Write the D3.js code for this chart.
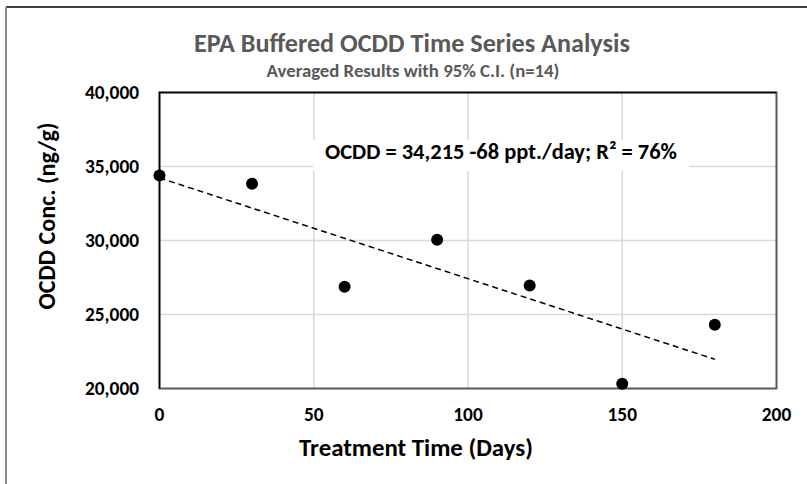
<!DOCTYPE html>
<html>
<head>
<meta charset="utf-8">
<script src="https://d3js.org/d3.v7.min.js"></script>
<style>
  html, body { margin: 0; padding: 0; background: #fff; }
  svg { display: block; font-family: Carlito, Calibri, Lato, sans-serif; font-weight: bold; }
</style>
</head>
<body>
<div id="chart"></div>
<script>
// values
var days = [0, 30, 60, 90, 120, 150, 180];
var ocdd = [34390, 33830, 26870, 30050, 26960, 20320, 24300];
var xTicks = [0, 50, 100, 150, 200];
var yTicks = [20000, 25000, 30000, 35000, 40000];

var titleText = "EPA Buffered OCDD Time Series Analysis",
    subtitleText = "Averaged Results with 95% C.I. (n=14)",
    fitText = "OCDD = 34,215 -68 ppt./day; R\u00B2 = 76%",
    xTitle = "Treatment Time (Days)",
    yTitle = "OCDD Conc. (ng/g)";

var width = 807,
    height = 484;

var svg = d3.select("#chart")
    .append("svg")
    .attr("width", width)
    .attr("height", height);

var x = d3.scaleLinear().domain([0, 200]).range([159.5, 776.5]);
var y = d3.scaleLinear().domain([20000, 40000]).range([388.5, 92.5]);

// shrink/grow the font so the text takes the same width as in the picture
function fit(sel, target) {
    var fs = parseFloat(sel.style("font-size"));
    var w = sel.node().getComputedTextLength();
    sel.style("font-size", (fs * target / w).toFixed(2) + "px");
    return sel;
}

// chart area edge (only left and top show in the crop)
svg.append("line")
    .attr("x1", 6).attr("y1", 7).attr("x2", width).attr("y2", 7)
    .style("stroke", "#000").style("stroke-width", 1.5);
svg.append("line")
    .attr("x1", 6).attr("y1", 7).attr("x2", 6).attr("y2", height)
    .style("stroke", "#8c8c8c").style("stroke-width", 2);

// gridlines
svg.append("g")
    .attr("class", "grid")
    .selectAll("line.v")
    .data(xTicks.slice(1, -1))
    .enter().append("line")
    .attr("x1", function(d) { return x(d); })
    .attr("x2", function(d) { return x(d); })
    .attr("y1", y(40000))
    .attr("y2", y(20000))
    .style("stroke", "#d9d9d9")
    .style("stroke-width", 1.5);

svg.select("g.grid")
    .selectAll("line.h")
    .data(yTicks.slice(1, -1))
    .enter().append("line")
    .attr("x1", x(0))
    .attr("x2", x(200))
    .attr("y1", function(d) { return y(d); })
    .attr("y2", function(d) { return y(d); })
    .style("stroke", "#d9d9d9")
    .style("stroke-width", 1.5);

// plot frame
svg.append("rect")
    .attr("x", x(0)).attr("y", y(40000))
    .attr("width", x(200) - x(0)).attr("height", y(20000) - y(40000))
    .style("fill", "none")
    .style("stroke", "#595959")
    .style("stroke-width", 2);
svg.append("path")
    .attr("d", "M" + x(0) + "," + y(20000) + "V" + y(40000) + "H" + x(200))
    .style("fill", "none")
    .style("stroke", "#000")
    .style("stroke-width", 1.5);

// least squares trend line
var mx = d3.mean(days), my = d3.mean(ocdd);
var slope = d3.sum(days, function(d, i) { return (d - mx) * (ocdd[i] - my); }) /
            d3.sum(days, function(d) { return (d - mx) * (d - mx); });
var intercept = my - slope * mx;
var trend = [d3.min(days), d3.max(days)].map(function(d) { return [d, intercept + slope * d]; });

svg.append("path")
    .datum(trend)
    .attr("d", d3.line()
        .x(function(d) { return x(d[0]); })
        .y(function(d) { return y(d[1]); }))
    .style("fill", "none")
    .style("stroke", "#000")
    .style("stroke-width", 1.5)
    .style("stroke-dasharray", "6,4");

// points
svg.append("g")
    .selectAll("circle")
    .data(days)
    .enter().append("circle")
    .attr("cx", function(d) { return x(d); })
    .attr("cy", function(d, i) { return y(ocdd[i]); })
    .attr("r", 6)
    .style("fill", "#000");

// tick labels
var fmt = d3.format(",");
var yl = svg.append("g")
    .selectAll("text")
    .data(yTicks)
    .enter().append("text")
    .attr("x", 139)
    .attr("y", function(d) { return y(d) + 6.5; })
    .attr("text-anchor", "end")
    .style("font-size", "19px")
    .text(function(d) { return fmt(d); });
var yScaleFont = 54 / yl.filter(function(d) { return d === 40000; }).node().getComputedTextLength();
yl.style("font-size", (19 * yScaleFont).toFixed(2) + "px");

svg.append("g")
    .selectAll("text")
    .data(xTicks)
    .enter().append("text")
    .attr("x", function(d) { return x(d); })
    .attr("y", 421)
    .attr("text-anchor", "middle")
    .style("font-size", (19 * yScaleFont).toFixed(2) + "px")
    .text(function(d) { return d; });

// axis titles
fit(svg.append("text")
    .attr("x", 416).attr("y", 456)
    .attr("text-anchor", "middle")
    .style("font-size", "24px")
    .text(xTitle), 234);

fit(svg.append("text")
    .attr("transform", "translate(55,216) rotate(-90)")
    .attr("text-anchor", "middle")
    .style("font-size", "24px")
    .text(yTitle), 187);

// titles
fit(svg.append("text")
    .attr("x", 412).attr("y", 52)
    .attr("text-anchor", "middle")
    .style("font-size", "26px")
    .style("fill", "#595959")
    .text(titleText), 436);

fit(svg.append("text")
    .attr("x", 413).attr("y", 77)
    .attr("text-anchor", "middle")
    .style("font-size", "18px")
    .style("fill", "#595959")
    .text(subtitleText), 293);

// regression label with white box
var lab = svg.append("g");
var labBox = lab.append("rect").style("fill", "#fff");
var labText = fit(lab.append("text")
    .attr("x", 325).attr("y", 159)
    .style("font-size", "22px")
    .text(fitText), 352);
var bb = labText.node().getBBox();
labBox.attr("x", bb.x - 12).attr("y", 140)
    .attr("width", bb.width + 24).attr("height", 31);
</script>
</body>
</html>
